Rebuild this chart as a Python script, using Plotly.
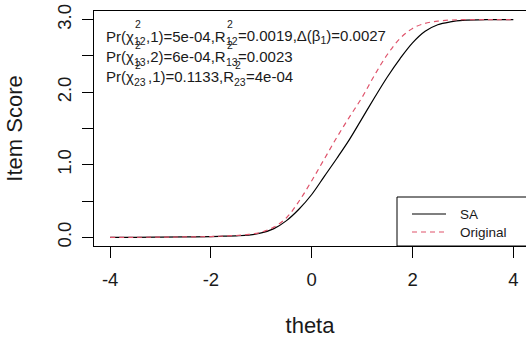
import plotly.graph_objects as go

theta_sa = [-4, -3.5, -3, -2.5, -2, -1.75, -1.5, -1.25, -1, -0.75, -0.5, -0.25, 0, 0.25, 0.5, 0.75,
            1.0, 1.25, 1.5, 1.75, 2.0, 2.25, 2.5, 2.75, 3.0, 3.5, 4.0]
score_sa = [0.0, 0.0, 0.002, 0.005, 0.01, 0.015, 0.02, 0.03, 0.06, 0.12, 0.23, 0.39, 0.59, 0.84, 1.09, 1.35,
            1.64, 1.93, 2.21, 2.46, 2.68, 2.84, 2.93, 2.97, 2.99, 3.0, 3.0]

theta_orig = [-4, -3.5, -3, -2.5, -2, -1.75, -1.5, -1.25, -1, -0.75, -0.5, -0.25, 0, 0.25, 0.5, 0.75,
              1.0, 1.25, 1.5, 1.75, 2.0, 2.25, 2.5, 2.75, 3.0, 3.5, 4.0]
score_orig = [0.0, 0.0, 0.002, 0.005, 0.01, 0.017, 0.025, 0.04, 0.07, 0.14, 0.27, 0.50, 0.78, 1.08, 1.38, 1.66,
              1.93, 2.24, 2.52, 2.74, 2.88, 2.95, 2.98, 2.995, 3.0, 3.0, 3.0]

x_ticks = [-4, -2, 0, 2, 4]
x_tick_labels = ["-4", "-2", "0", "2", "4"]
y_ticks = [0, 0.5, 1.0, 1.5, 2.0, 2.5, 3.0]
y_tick_labels = ["0.0", "", "1.0", "", "2.0", "", "3.0"]

# statistics text, split around the stacked chi^2 / R^2 scripts
stat_heads = ["Pr(χ", "Pr(χ", "Pr(χ"]
stat_subs = ["12", "13", "23"]
stat_mids = [",1)=5e-04,R", ",2)=6e-04,R", ",1)=0.1133,R"]
stat_tails = ["=0.0019,Δ(β<sub>1</sub>)=0.0027", "=0.0023", "=4e-04"]
legend_names = ["SA", "Original"]
colors = ["#000000", "#DF536B"]

FONT = "Liberation Sans, Arial, sans-serif"
TXT = "#1a1a1a"
DASH = "5px,4px"

fig = go.Figure()
fig.add_trace(go.Scatter(x=theta_sa, y=score_sa, mode="lines", name=legend_names[0],
                         line=dict(color=colors[0], width=1.2, shape="spline"), showlegend=False))
fig.add_trace(go.Scatter(x=theta_orig, y=score_orig, mode="lines", name=legend_names[1],
                         line=dict(color=colors[1], width=1.2, dash=DASH, shape="spline"),
                         showlegend=False))

L, T, B = 94, 11, 94
W, H = 526, 340
pw = W - L
ph = H - T - B


def px(xp):
    return (xp - L) / pw


def py(yp):
    return (H - B - yp) / ph


def note(text, x, y, anchor, size):
    fig.add_annotation(text=text, xref="paper", yref="paper", x=px(x), y=py(y),
                       xanchor=anchor, yanchor="middle", showarrow=False,
                       borderpad=0, borderwidth=0,
                       font=dict(family=FONT, size=size, color=TXT))


FS = 15
SS = 10.5
line_y = [36, 57, 77]
head_end = 134
r_end = [226, 226, 234]
for i in range(3):
    yy = line_y[i]
    note(stat_heads[i], head_end, yy, "right", FS)
    note("2", head_end + 0.5, yy - 12, "left", SS)
    note(stat_subs[i], head_end, yy + 5, "left", SS)
    note(stat_mids[i], r_end[i], yy, "right", FS)
    note("2", r_end[i] + 0.5, yy - 12, "left", SS)
    note(stat_subs[i], r_end[i] - 0.5, yy + 5, "left", SS)
    note(stat_tails[i], r_end[i] + 12, yy, "left", FS)

# legend (manual, bottom-right, extending past the right edge as in the reference)
fig.add_shape(type="rect", xref="paper", yref="paper", x0=px(397), x1=1.05, y0=0, y1=py(197),
              line=dict(color="#000000", width=1), fillcolor="rgba(0,0,0,0)")
leg_y = [214, 232]
for name, col, yy, dash in zip(legend_names, colors, leg_y, ["solid", DASH]):
    fig.add_shape(type="line", xref="paper", yref="paper", x0=px(412), x1=px(446), y0=py(yy), y1=py(yy),
                  line=dict(color=col, width=1.2, dash=dash))
    note(name, 460, yy, "left", 13.5)

fig.update_layout(
    width=W, height=H,
    margin=dict(l=L, r=0, t=T, b=B, autoexpand=False),
    paper_bgcolor="white", plot_bgcolor="white",
    font=dict(family=FONT, size=18.5, color=TXT),
    xaxis=dict(range=[-4.32, -4.32 + pw / 50.4], tickvals=x_ticks, ticktext=x_tick_labels,
               ticks="outside", ticklen=11,
               tickcolor="#000", showline=True, linecolor="#000", linewidth=1, mirror=True,
               showgrid=False, zeroline=False, ticklabelstandoff=6,
               title=dict(text="theta", standoff=28), automargin=False),
    yaxis=dict(range=[-0.12, 3.12], tickvals=y_ticks, ticktext=y_tick_labels, ticks="outside", ticklen=11,
               tickcolor="#000", showline=True, linecolor="#000", linewidth=1,
               showgrid=False, zeroline=False, tickangle=-90, ticklabelstandoff=4,
               title=dict(text="Item Score", standoff=24), automargin=False),
)

fig.write_html("out.html", config={"displayModeBar": False},
               post_script="document.body.style.margin='0';")
